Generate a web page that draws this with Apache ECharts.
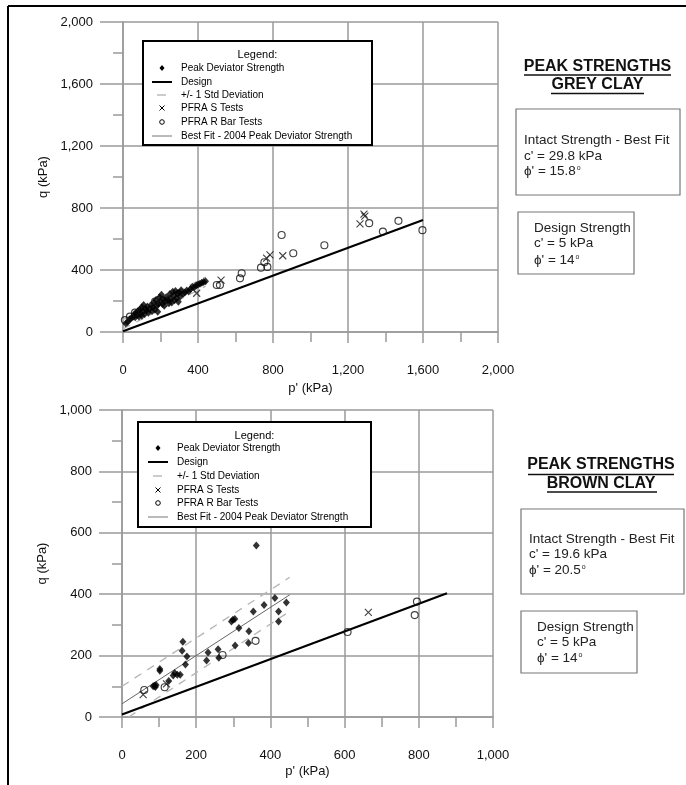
<!DOCTYPE html>
<html><head><meta charset="utf-8">
<script src="https://cdn.jsdelivr.net/npm/echarts@6/dist/echarts.min.js"></script>
<style>html,body{margin:0;padding:0;background:#fff}#c{width:686px;height:785px}</style>
</head><body><div id="c"></div>
<script>
// ---------------- GREY CLAY (top chart) ----------------
const greyXTicks = [0, 400, 800, 1200, 1600, 2000];
const greyYTicks = [0, 400, 800, 1200, 1600, 2000];
const greyPeak = [
  [15,55],[25,65],[35,80],[45,90],[55,100],[60,115],[65,95],[70,125],[75,110],[80,135],
  [85,100],[90,145],[95,120],[100,105],[100,160],[105,130],[110,175],[115,115],[120,150],[125,140],
  [130,165],[135,125],[140,145],[150,175],[155,135],[160,160],[165,190],[170,145],[175,205],[180,170],
  [185,130],[190,180],[195,225],[200,200],[205,240],[210,180],[215,210],[220,170],[225,200],[230,225],
  [240,205],[245,185],[250,245],[255,215],[260,190],[265,260],[270,235],[275,205],[280,265],[285,220],
  [290,250],[295,195],[300,255],[305,230],[310,270],[320,245],[330,255],[340,268],[350,262],[360,278],
  [370,290],[380,288],[390,300],[400,306],[410,312],[420,318],[430,322],[440,328]
];
const greyDesign = [[0,5],[1600,723]];
const greyBestFit = [[0,50],[440,325]];
const greyStdUpper = [[0,80],[440,355]];
const greyStdLower = [[0,20],[440,295]];
const greyPfraS = [[393,250],[523,335],[766,476],[784,497],[852,492],[1264,697],[1285,760],[1290,748]];
const greyPfraR = [[10,77],[37,99],[64,125],[171,196],[188,206],[500,303],[517,303],[624,346],[633,379],
  [736,415],[754,450],[770,420],[846,626],[908,508],[1074,560],[1313,702],[1386,648],[1469,717],[1597,657]];

// ---------------- BROWN CLAY (bottom chart) ----------------
const brownXTicks = [0, 200, 400, 600, 800, 1000];
const brownYTicks = [0, 200, 400, 600, 800, 1000];
const brownPeak = [
  [88,102],[84,100],[90,98],[92,104],[102,156],[102,151],[126,117],[138,135],[142,143],[149,138],
  [157,138],[162,216],[164,245],[171,171],[175,197],[228,184],[232,210],[259,221],[261,193],[295,311],
  [299,317],[304,319],[315,290],[305,233],[341,241],[342,279],[354,344],[362,559],[383,365],[412,388],
  [422,344],[422,311],[443,373]
];
const brownDesign = [[0,8],[876,403]];
const brownBestFit = [[0,43],[452,398]];
const brownStdUpper = [[0,100],[452,455]];
const brownStdLower = [[18,0],[452,344]];
const brownPfraS = [[57,73],[120,108],[664,341]];
const brownPfraR = [[60,88],[115,97],[271,202],[360,248],[608,277],[789,332],[795,376]];

// ---------------- texts ----------------
const legendTitle = 'Legend:';
const legendLabels = ['Peak Deviator Strength','Design','+/- 1 Std Deviation','PFRA S Tests','PFRA R Bar Tests','Best Fit - 2004 Peak Deviator Strength'];
const greyTitle = ['PEAK STRENGTHS','GREY CLAY'];
const brownTitle = ['PEAK STRENGTHS','BROWN CLAY'];
const greyIntact = ['Intact Strength - Best Fit', "c' = 29.8 kPa", "ϕ' = 15.8"];
const brownIntact = ['Intact Strength - Best Fit', "c' = 19.6 kPa", "ϕ' = 20.5"];
const designBox = ['Design Strength', "c' = 5 kPa", "ϕ' = 14"];

const FF = "'Liberation Sans', Arial, sans-serif";
const GC = '#9a9a9a';
const chart = echarts.init(document.getElementById('c'));
const fmt = v => Number(v).toLocaleString('en-US');

function xAxisCfg(grid, ticks, gap) {
  const ls = {color: GC, width: 1.5};
  return {
    type: 'value', gridIndex: grid, min: ticks[0], max: ticks[ticks.length-1], interval: ticks[1]-ticks[0],
    axisLine: {show: true, onZero: false, lineStyle: ls},
    axisTick: {show: true, length: 11, lineStyle: ls},
    minorTick: {show: true, splitNumber: 2, length: 10, lineStyle: ls},
    splitLine: {show: true, lineStyle: ls},
    axisLabel: {margin: 32, fontSize: 13, color: '#111', fontFamily: FF, formatter: fmt},
    name: "p' (kPa)", nameLocation: 'middle', nameGap: gap,
    nameTextStyle: {fontSize: 13, color: '#111', fontFamily: FF}
  };
}
function yAxisCfg(grid, ticks) {
  const ls = {color: GC, width: 1.5};
  return {
    type: 'value', gridIndex: grid, min: ticks[0], max: ticks[ticks.length-1], interval: ticks[1]-ticks[0],
    axisLine: {show: true, onZero: false, lineStyle: ls},
    axisTick: {show: true, length: 23, lineStyle: ls},
    minorTick: {show: true, splitNumber: 2, length: 10, lineStyle: ls},
    splitLine: {show: true, lineStyle: ls},
    axisLabel: {margin: 30, fontSize: 13, color: '#111', fontFamily: FF, formatter: fmt},
    name: 'q (kPa)', nameLocation: 'middle', nameGap: 62,
    nameTextStyle: {fontSize: 13, color: '#111', fontFamily: FF}
  };
}
function seriesFor(idx, d) {
  const base = {xAxisIndex: idx, yAxisIndex: idx, silent: true};
  return [
    Object.assign({type:'line', name:'stdU', data:d.stdU, symbol:'none', lineStyle:{color:'#b4b4b4', width:1.3, type:[8,7]}, z:2}, base),
    Object.assign({type:'line', name:'stdL', data:d.stdL, symbol:'none', lineStyle:{color:'#b4b4b4', width:1.3, type:[8,7]}, z:2}, base),
    Object.assign({type:'line', name:'best', data:d.best, symbol:'none', lineStyle:{color:'#666', width:1}, z:3}, base),
    Object.assign({type:'line', name:'design', data:d.design, symbol:'none', lineStyle:{color:'#000', width:2.2}, z:3}, base),
    Object.assign({type:'scatter', name:'peak', data:d.peak, symbol:'diamond', symbolSize:[7,8], itemStyle:{color:'#000'}, z:5}, base),
    Object.assign({type:'scatter', name:'pfraS', data:d.s, symbol:'path://M0,0L10,10M10,0L0,10', symbolSize:7, itemStyle:{color:'none', borderColor:'#111', borderWidth:1.1}, z:6}, base),
    Object.assign({type:'scatter', name:'pfraR', data:d.r, symbol:'circle', symbolSize:7, itemStyle:{color:'none', borderColor:'#111', borderWidth:1.15}, z:6}, base)
  ];
}

function txt(x, y, text, font, extra) {
  return {type:'text', x:x, y:y, z:100, style: Object.assign({text:text, font:font, fill:'#000',
    align:'left', textAlign:'left', verticalAlign:'middle', textVerticalAlign:'middle'}, extra||{})};
}
function ln(x1,y1,x2,y2,stroke,w){ return {type:'line', z:100, shape:{x1,y1,x2,y2}, style:{stroke, lineWidth:w}}; }

function legend(bx, by, bw, bh, sx, tx, rows, ly) {
  const els = [];
  els.push({type:'rect', z:99, shape:{x:bx, y:by, width:bw, height:bh}, style:{fill:'#fff', stroke:'#000', lineWidth:2}});
  els.push(txt(bx+bw/2, ly, legendTitle, '11px '+FF, {align:'center', textAlign:'center'}));
  legendLabels.forEach((l,i) => els.push(txt(tx, rows[i], l, '10px '+FF)));
  const y0 = rows[0];
  els.push({type:'polygon', z:100, shape:{points:[[sx,y0-3],[sx+2.5,y0],[sx,y0+3],[sx-2.5,y0]]}, style:{fill:'#000'}});
  els.push(ln(sx-10, rows[1], sx+10, rows[1], '#000', 2));
  els.push(ln(sx-5, rows[2], sx+4, rows[2], '#bbb', 1.5));
  els.push(ln(sx-2.5, rows[3]-2.5, sx+2.5, rows[3]+2.5, '#000', 1));
  els.push(ln(sx+2.5, rows[3]-2.5, sx-2.5, rows[3]+2.5, '#000', 1));
  els.push({type:'circle', z:100, shape:{cx:sx, cy:rows[4], r:2.3}, style:{fill:'none', stroke:'#000', lineWidth:1}});
  els.push(ln(sx-10, rows[5], sx+10, rows[5], '#777', 1));
  return els;
}

function infoBlock(cx, titles, tys, uls, box1, lines1, x1, ys1, box2, lines2, x2, ys2) {
  const els = [];
  titles.forEach((t,i) => els.push(txt(cx, tys[i], t, 'bold 16px '+FF, {align:'center', textAlign:'center', fill:'#111'})));
  uls.forEach(u => els.push(ln(u[0], u[2], u[1], u[2], '#111', 1.5)));
  els.push({type:'rect', z:98, shape:box1, style:{fill:'none', stroke:'#777', lineWidth:1.2}});
  els.push({type:'rect', z:98, shape:box2, style:{fill:'none', stroke:'#777', lineWidth:1.2}});
  const rich = {a:{fontSize:13.5, fontFamily:FF, fill:'#222', color:'#222'}, s:{fontSize:7, fontFamily:FF, fill:'#222', color:'#222', padding:[0,0,6,1]}};
  const put = (lines, x, ys) => lines.forEach((t,i) => {
    if (i === 2) els.push(txt(x, ys[i], '{a|'+t+'}{s|o}', '13.5px '+FF, {rich:rich, fill:'#222'}));
    else els.push(txt(x, ys[i], t, '13.5px '+FF, {fill:'#222'}));
  });
  put(lines1, x1, ys1);
  put(lines2, x2, ys2);
  return els;
}

const graphics = [].concat(
  [ln(8, 6, 686, 6, '#000', 2), ln(8, 6, 8, 785, '#000', 2)],
  legend(143, 41, 229, 104, 162, 181, [68,82,95,108,122,136], 55),
  legend(138, 422, 233, 105, 158, 177, [448,462,476,490,503,517], 436),
  infoBlock(597.5, greyTitle, [67,85], [[524,671,75],[551,644,93.5]],
    {x:516, y:109, width:164, height:86}, greyIntact, 524, [140,156,171],
    {x:518, y:212, width:116, height:62}, designBox, 534, [228,243,260]),
  infoBlock(601, brownTitle, [465,484], [[528,674,474.5],[547,657,492]],
    {x:521, y:509, width:163, height:85}, brownIntact, 529, [539,554,570],
    {x:521, y:611, width:116, height:62}, designBox, 537, [627,642,658])
);

chart.setOption({
  animation: false,
  backgroundColor: '#fff',
  textStyle: {fontFamily: FF},
  grid: [
    {left: 123, top: 22, width: 375, height: 310},
    {left: 122, top: 410, width: 371, height: 307}
  ],
  xAxis: [xAxisCfg(0, greyXTicks, 50), xAxisCfg(1, brownXTicks, 48)],
  yAxis: [yAxisCfg(0, greyYTicks), yAxisCfg(1, brownYTicks)],
  series: [].concat(
    seriesFor(0, {stdU:greyStdUpper, stdL:greyStdLower, best:greyBestFit, design:greyDesign, peak:greyPeak, s:greyPfraS, r:greyPfraR}),
    seriesFor(1, {stdU:brownStdUpper, stdL:brownStdLower, best:brownBestFit, design:brownDesign, peak:brownPeak, s:brownPfraS, r:brownPfraR})
  ),
  graphic: {elements: graphics}
});
</script></body></html>
